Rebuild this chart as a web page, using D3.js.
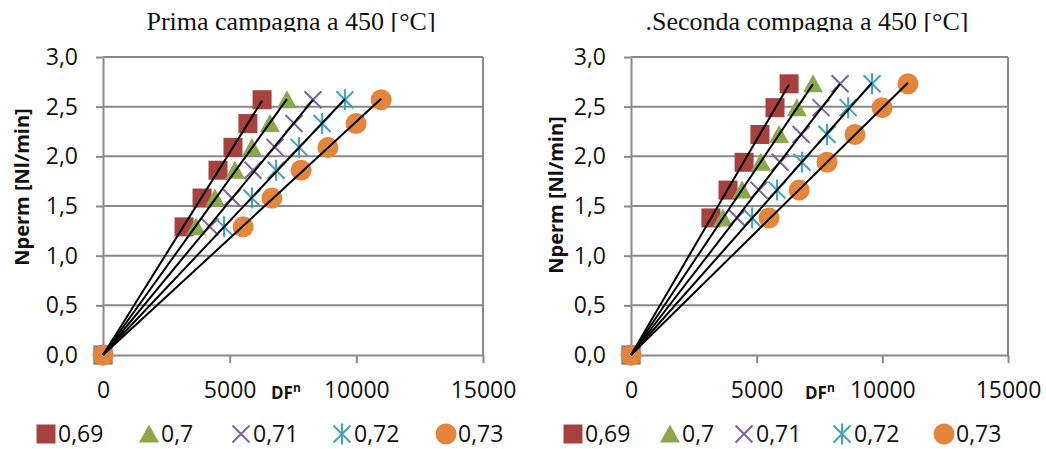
<!DOCTYPE html>
<html>
<head>
<meta charset="utf-8">
<script src="https://cdn.jsdelivr.net/npm/d3@7"></script>
<style>
  body { margin: 0; background: #fff; }
  svg { display: block; }
</style>
</head>
<body>
<div id="chart"></div>
<script>
// series (legend labels), colours and marker shapes
const seriesNames = ["0,69", "0,7", "0,71", "0,72", "0,73"];
const seriesColors = ["#A6413E", "#8CA84B", "#7E63A1", "#40A4BE", "#E3853A"];
const seriesShapes = ["square", "triangle", "cross", "asterisk", "circle"];

const xTicks = [0, 5000, 10000, 15000];
const yTicks = [0, 0.5, 1, 1.5, 2, 2.5, 3];

// Prima campagna: Nperm levels, DF^n per series
const primaY = [0, 1.29, 1.58, 1.86, 2.09, 2.33, 2.57];
const primaX069 = [0, 3200, 3910, 4540, 5130, 5720, 6280];
const primaX070 = [0, 3670, 4420, 5210, 5880, 6590, 7260];
const primaX071 = [0, 4220, 5090, 5920, 6790, 7540, 8290];
const primaX072 = [0, 4780, 5880, 6830, 7740, 8650, 9550];
const primaX073 = [0, 5530, 6670, 7820, 8880, 9990, 10980];

// Seconda campagna
const secondaY = [0, 1.38, 1.66, 1.94, 2.22, 2.49, 2.73];
const secondaX069 = [0, 3180, 3860, 4500, 5130, 5730, 6290];
const secondaX070 = [0, 3660, 4420, 5170, 5890, 6600, 7240];
const secondaX071 = [0, 4220, 5090, 5930, 6770, 7560, 8320];
const secondaX072 = [0, 4820, 5810, 6800, 7800, 8640, 9590];
const secondaX073 = [0, 5490, 6690, 7800, 8910, 9990, 11020];

const W = 1046, H = 449;
const gridColor = "#898989";
const tickFont = "'Open Sans', sans-serif";

const svg = d3.select("#chart").append("svg")
    .attr("width", W).attr("height", H)
    .style("background", "#fff");

svg.append("defs").append("clipPath").attr("id", "titleClip")
    .append("rect").attr("x", 0).attr("y", 0).attr("width", W).attr("height", 32);

function drawMarker(g, shape, color) {
    if (shape === "square") {
        g.append("rect").attr("x", -9.5).attr("y", -9.5).attr("width", 19).attr("height", 19)
            .attr("fill", color);
    } else if (shape === "triangle") {
        g.append("path").attr("d", "M0,-9.5L10,8.5L-10,8.5Z").attr("fill", color);
    } else if (shape === "circle") {
        g.append("circle").attr("r", 10.5).attr("fill", color);
    } else if (shape === "cross") {
        g.append("path").attr("d", "M-8.5,-8.5L8.5,8.5M8.5,-8.5L-8.5,8.5")
            .attr("stroke", color).attr("stroke-width", 2).attr("fill", "none");
    } else if (shape === "asterisk") {
        g.append("path").attr("d", "M-8.5,-8.5L8.5,8.5M8.5,-8.5L-8.5,8.5M0,-10.5L0,10.5")
            .attr("stroke", color).attr("stroke-width", 2).attr("fill", "none");
    }
}

function drawPanel(p) {
    const g = svg.append("g");
    const x = d3.scaleLinear().domain([0, 15000]).range([p.left, p.right]);
    const y = d3.scaleLinear().domain([0, 3]).range([355, 57]);

    // title (clipped at the top like the source)
    g.append("text")
        .attr("clip-path", "url(#titleClip)")
        .attr("x", p.titleX).attr("y", 30)
        .attr("text-anchor", "middle")
        .style("font-family", "'Liberation Serif', 'Times New Roman', serif")
        .style("font-size", "26px")
        .attr("fill", "#111")
        .text(p.title);

    // horizontal gridlines
    g.selectAll(".grid")
        .data(yTicks.slice(1))
        .enter().append("line")
        .attr("x1", p.left).attr("x2", p.right)
        .attr("y1", d => y(d)).attr("y2", d => y(d))
        .attr("stroke", gridColor).attr("stroke-width", 2);

    // right border of plot area
    g.append("line")
        .attr("x1", p.right).attr("x2", p.right)
        .attr("y1", y(3)).attr("y2", y(0))
        .attr("stroke", gridColor).attr("stroke-width", 2);

    const fmt = d => d3.format(".1f")(d).replace(".", ",");

    const yAxis = g.append("g")
        .attr("transform", `translate(${p.left},0)`)
        .call(d3.axisLeft(y).tickValues(yTicks).tickFormat(fmt).tickSize(7).tickSizeOuter(0).tickPadding(18));

    const xAxis = g.append("g")
        .attr("transform", `translate(0,${y(0)})`)
        .call(d3.axisBottom(x).tickValues(xTicks).tickFormat(d3.format("d")).tickSize(8).tickSizeOuter(0).tickPadding(19));

    [yAxis, xAxis].forEach(a => {
        a.select(".domain").attr("stroke", gridColor).attr("stroke-width", 2);
        a.selectAll(".tick line").attr("stroke", gridColor).attr("stroke-width", 2);
        a.selectAll("text")
            .style("font-family", tickFont)
            .style("font-size", "23px")
            .attr("fill", "#111");
    });

    // axis titles
    g.append("text")
        .attr("transform", `translate(${p.yLabelX},${p.yLabelY}) rotate(-90)`)
        .attr("text-anchor", "middle")
        .attr("dy", "0.35em")
        .style("font-family", tickFont)
        .style("font-weight", "bold")
        .style("font-size", "20px")
        .attr("fill", "#111")
        .text("Nperm [Nl/min]");

    const df = g.append("text")
        .attr("x", p.dfX).attr("y", 399)
        .style("font-family", tickFont)
        .style("font-weight", "bold")
        .style("font-size", "17px")
        .attr("fill", "#111");
    df.append("tspan").text("DF");
    df.append("tspan").attr("dy", "-7").style("font-size", "12px").text("n");

    // markers, series in order so later series sit on top
    p.xs.forEach((xs, i) => {
        const pts = xs.map((v, k) => [v, p.ys[k]]);
        g.selectAll(null)
            .data(pts)
            .enter().append("g")
            .attr("transform", d => `translate(${x(d[0])},${y(d[1])})`)
            .each(function() { drawMarker(d3.select(this), seriesShapes[i], seriesColors[i]); });
    });

    // linear trendlines through the origin
    p.xs.forEach(xs => {
        const sxy = d3.sum(xs, (v, k) => v * p.ys[k]);
        const sxx = d3.sum(xs, v => v * v);
        const slope = sxy / sxx;
        const xmax = d3.max(xs);
        g.append("line")
            .attr("x1", x(0)).attr("y1", y(0))
            .attr("x2", x(xmax)).attr("y2", y(slope * xmax))
            .attr("stroke", "#000").attr("stroke-width", 2);
    });

    // legend
    seriesNames.forEach((name, i) => {
        const lg = g.append("g").attr("transform", `translate(${p.legendX[i]},434)`);
        drawMarker(lg, seriesShapes[i], seriesColors[i]);
        lg.append("text")
            .attr("x", 12).attr("dy", "0.36em")
            .style("font-family", tickFont)
            .style("font-size", "23px")
            .attr("fill", "#111")
            .text(name);
    });
}

drawPanel({
    title: "Prima campagna a 450 [°C]", titleX: 291,
    left: 103, right: 483,
    yLabelX: 22, yLabelY: 187, dfX: 271,
    legendX: [46, 149, 241, 342, 446],
    ys: primaY,
    xs: [primaX069, primaX070, primaX071, primaX072, primaX073]
});

drawPanel({
    title: ".Seconda compagna a 450 [°C]", titleX: 807,
    left: 631, right: 1008,
    yLabelX: 556, yLabelY: 195, dfX: 805,
    legendX: [573, 670, 744, 842, 944],
    ys: secondaY,
    xs: [secondaX069, secondaX070, secondaX071, secondaX072, secondaX073]
});
</script>
</body>
</html>
